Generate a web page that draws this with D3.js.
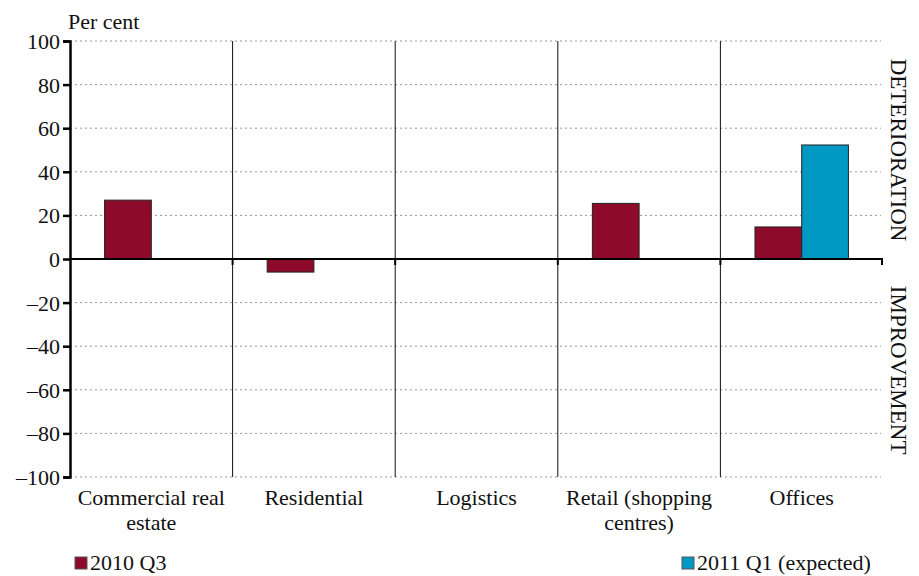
<!DOCTYPE html>
<html>
<head>
<meta charset="utf-8">
<script src="https://cdn.jsdelivr.net/npm/d3@7"></script>
<style>
  body { margin: 0; background: #fff; }
</style>
</head>
<body>
<svg id="chart" width="919" height="576"></svg>
<script>
// Sector categories (label lines) and survey balances, per cent
const categories = ["Commercial real estate", "Residential", "Logistics", "Retail (shopping centres)", "Offices"];
const categoryLines = [["Commercial real", "estate"], ["Residential"], ["Logistics"], ["Retail (shopping", "centres)"], ["Offices"]];
const series2010Q3 = [27, -6, null, 25.5, 14.7];
const series2011Q1 = [null, null, null, null, 52.3];
const seriesNames = ["2010 Q3", "2011 Q1 (expected)"];
const seriesColors = ["#8E0A2A", "#0099C4"];
const yTicks = [-100, -80, -60, -40, -20, 0, 20, 40, 60, 80, 100];

(function draw() {
  const FONT = "'Liberation Serif', 'Times New Roman', serif";
  const svg = d3.select("#chart");
  const mLeft = 70, mRight = 883, mTop = 41, mBottom = 477;

  const x = d3.scaleBand().domain(categories).range([mLeft, mRight]);
  const xInner = d3.scaleBand().domain(seriesNames).range([0, x.bandwidth()]).paddingOuter(0.74).paddingInner(0);
  const y = d3.scaleLinear().domain([-100, 100]).range([mBottom, mTop]);

  const label = (sel) => sel.style("font-family", FONT).attr("font-size", 22).attr("fill", "#111");

  // dotted gridlines
  svg.append("g").selectAll("line").data(yTicks.filter(d => d !== 0)).join("line")
    .attr("x1", mLeft).attr("x2", mRight - 2)
    .attr("y1", d => y(d)).attr("y2", d => y(d))
    .attr("stroke", "#999").attr("stroke-width", 1).attr("stroke-dasharray", "2,3");

  // vertical separators between categories
  svg.append("g").selectAll("line").data(categories.slice(1)).join("line")
    .attr("x1", d => x(d)).attr("x2", d => x(d))
    .attr("y1", mTop).attr("y2", mBottom)
    .attr("stroke", "#111").attr("stroke-width", 1);

  // bars
  const rows = categories.map((c, i) => ({ c, vals: [series2010Q3[i], series2011Q1[i]] }));
  const g = svg.append("g");
  rows.forEach(r => {
    r.vals.forEach((v, j) => {
      if (v == null) return;
      g.append("rect")
        .attr("x", x(r.c) + xInner(seriesNames[j]))
        .attr("width", xInner.bandwidth())
        .attr("y", y(Math.max(0, v)))
        .attr("height", Math.abs(y(v) - y(0)))
        .attr("fill", seriesColors[j])
        .attr("stroke", "#222").attr("stroke-width", 1);
    });
  });

  // y axis
  const yAxis = svg.append("g").attr("transform", `translate(${mLeft},0)`)
    .call(d3.axisLeft(y).tickValues(yTicks).tickSize(7).tickFormat(d => d < 0 ? "\u2013" + Math.abs(d) : d));
  yAxis.attr("font-family", null);
  yAxis.select(".domain").attr("stroke", "#000").attr("stroke-width", 2.5);
  yAxis.selectAll(".tick line").attr("stroke", "#000").attr("stroke-width", 2.5);
  yAxis.selectAll(".tick text").call(label).attr("x", -10).attr("dy", "0.34em");

  // zero line with boundary ticks
  svg.append("line").attr("x1", mLeft).attr("x2", mRight).attr("y1", y(0)).attr("y2", y(0))
    .attr("stroke", "#000").attr("stroke-width", 2);
  svg.append("g").selectAll("line").data(categories.slice(1).map(c => x(c)).concat([mRight - 1])).join("line")
    .attr("x1", d => d).attr("x2", d => d)
    .attr("y1", y(0)).attr("y2", y(0) + 6)
    .attr("stroke", "#000").attr("stroke-width", 2);

  // category labels
  categories.forEach((c, i) => {
    const cx = x(c) + x.bandwidth() / 2;
    const t = svg.append("text").call(label).attr("text-anchor", "middle")
      .attr("x", cx).attr("y", 505);
    categoryLines[i].forEach((line, k) => {
      t.append("tspan").attr("x", cx).attr("dy", k === 0 ? 0 : 25).text(line);
    });
  });

  // unit label
  svg.append("text").call(label).attr("x", 68).attr("y", 29).text("Per cent");

  // right-hand side labels
  svg.append("text").call(label).attr("font-size", 23).attr("text-anchor", "middle")
    .attr("transform", `translate(891,${y(50)}) rotate(90)`).text("DETERIORATION");
  svg.append("text").call(label).attr("font-size", 23).attr("text-anchor", "middle")
    .attr("transform", `translate(891,${y(-51)}) rotate(90)`).text("IMPROVEMENT");

  // legend
  const legendPos = [[75, 563], [682, 563]];
  seriesNames.forEach((name, i) => {
    const [lx, ly] = legendPos[i];
    svg.append("rect").attr("x", lx).attr("y", ly - 6).attr("width", 12).attr("height", 12)
      .attr("fill", seriesColors[i]).attr("stroke", "#555").attr("stroke-width", 1);
    svg.append("text").call(label).attr("x", lx + 15).attr("y", ly + 7).text(name);
  });
})();
</script>
</body>
</html>
